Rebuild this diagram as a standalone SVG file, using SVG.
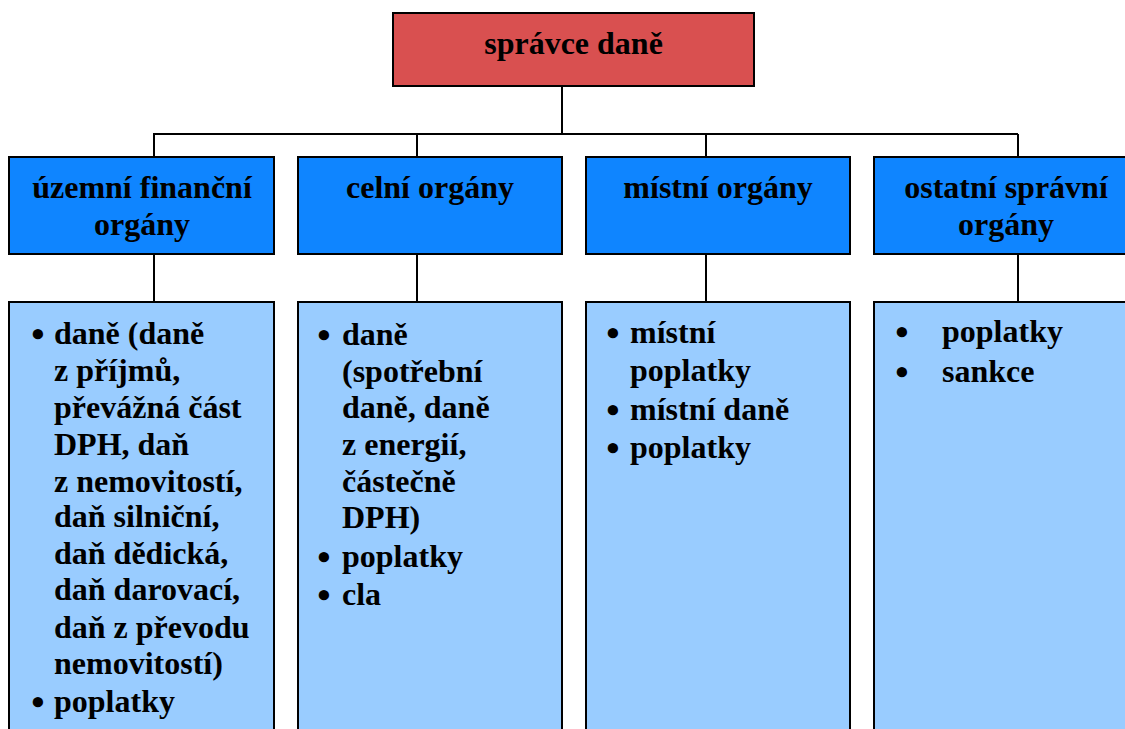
<svg xmlns="http://www.w3.org/2000/svg" width="1125" height="729" viewBox="0 0 1125 729">
<style>
text{font-family:"Liberation Serif","Times New Roman",serif;font-weight:bold;font-size:32px;fill:#000}
.c{text-anchor:middle}
.b{text-anchor:middle;font-size:38px}
.top{fill:#D95050;stroke:#000;stroke-width:2}
.mid{fill:#0F85FF;stroke:#000;stroke-width:2}
.low{fill:#99CCFF;stroke:#000;stroke-width:2}
.ln{stroke:#000;stroke-width:2;fill:none}
</style>
<rect width="1125" height="729" fill="#fff"/>
<g id="connectors">
<path class="ln" d="M562 86V134M153 134H1018M154 134V157M417 134V157M706 134V157M1018 134V157"/>
<path class="ln" d="M154 254V302M417 254V302M706 254V302M1018 254V302"/>
</g>
<g id="spravce">
<rect class="top" x="393" y="13" width="361" height="73"/>
<text class="c" x="573.5" y="54">správce daně</text>
</g>
<g id="uzemni">
<rect class="mid" x="9" y="157" width="265" height="97"/>
<text class="c" x="142" y="198">územní finanční</text>
<text class="c" x="142" y="235">orgány</text>
</g>
<g id="celni">
<rect class="mid" x="298" y="157" width="264" height="97"/>
<text class="c" x="430" y="198">celní orgány</text>
</g>
<g id="mistni">
<rect class="mid" x="586" y="157" width="264" height="97"/>
<text class="c" x="718" y="198">místní orgány</text>
</g>
<g id="ostatni">
<rect class="mid" x="874" y="157" width="264" height="97"/>
<text class="c" x="1006" y="198">ostatní správní</text>
<text class="c" x="1006" y="235">orgány</text>
</g>
<g id="uzemni-list">
<rect class="low" x="9" y="302" width="265" height="440"/>
<text y="344"><tspan class="b" x="38" y="347">•</tspan><tspan x="54" y="344">daně (daně</tspan></text>
<text x="54" y="381">z příjmů,</text>
<text x="54" y="418">převážná část</text>
<text x="54" y="455">DPH, daň</text>
<text x="54" y="492">z nemovitostí,</text>
<text x="54" y="527">daň silniční,</text>
<text x="54" y="564">daň dědická,</text>
<text x="54" y="600">daň darovací,</text>
<text x="54" y="638">daň z převodu</text>
<text x="54" y="674">nemovitostí)</text>
<text y="712"><tspan class="b" x="38" y="715">•</tspan><tspan x="54" y="712">poplatky</tspan></text>
</g>
<g id="celni-list">
<rect class="low" x="298" y="302" width="264" height="440"/>
<text y="345"><tspan class="b" x="324" y="348">•</tspan><tspan x="342" y="345">daně</tspan></text>
<text x="342" y="382">(spotřební</text>
<text x="342" y="418">daně, daně</text>
<text x="342" y="455">z energií,</text>
<text x="342" y="492">částečně</text>
<text x="342" y="528">DPH)</text>
<text y="567"><tspan class="b" x="324" y="570">•</tspan><tspan x="342" y="567">poplatky</tspan></text>
<text y="605"><tspan class="b" x="324" y="608">•</tspan><tspan x="342" y="605">cla</tspan></text>
</g>
<g id="mistni-list">
<rect class="low" x="586" y="302" width="264" height="440"/>
<text y="343"><tspan class="b" x="613" y="346">•</tspan><tspan x="630" y="343">místní</tspan></text>
<text x="630" y="381">poplatky</text>
<text y="420"><tspan class="b" x="613" y="423">•</tspan><tspan x="630" y="420">místní daně</tspan></text>
<text y="458"><tspan class="b" x="613" y="461">•</tspan><tspan x="630" y="458">poplatky</tspan></text>
</g>
<g id="ostatni-list">
<rect class="low" x="874" y="302" width="264" height="440"/>
<text y="342"><tspan class="b" x="902" y="345">•</tspan><tspan x="942" y="342">poplatky</tspan></text>
<text y="382"><tspan class="b" x="902" y="385">•</tspan><tspan x="942" y="382">sankce</tspan></text>
</g>
</svg>
